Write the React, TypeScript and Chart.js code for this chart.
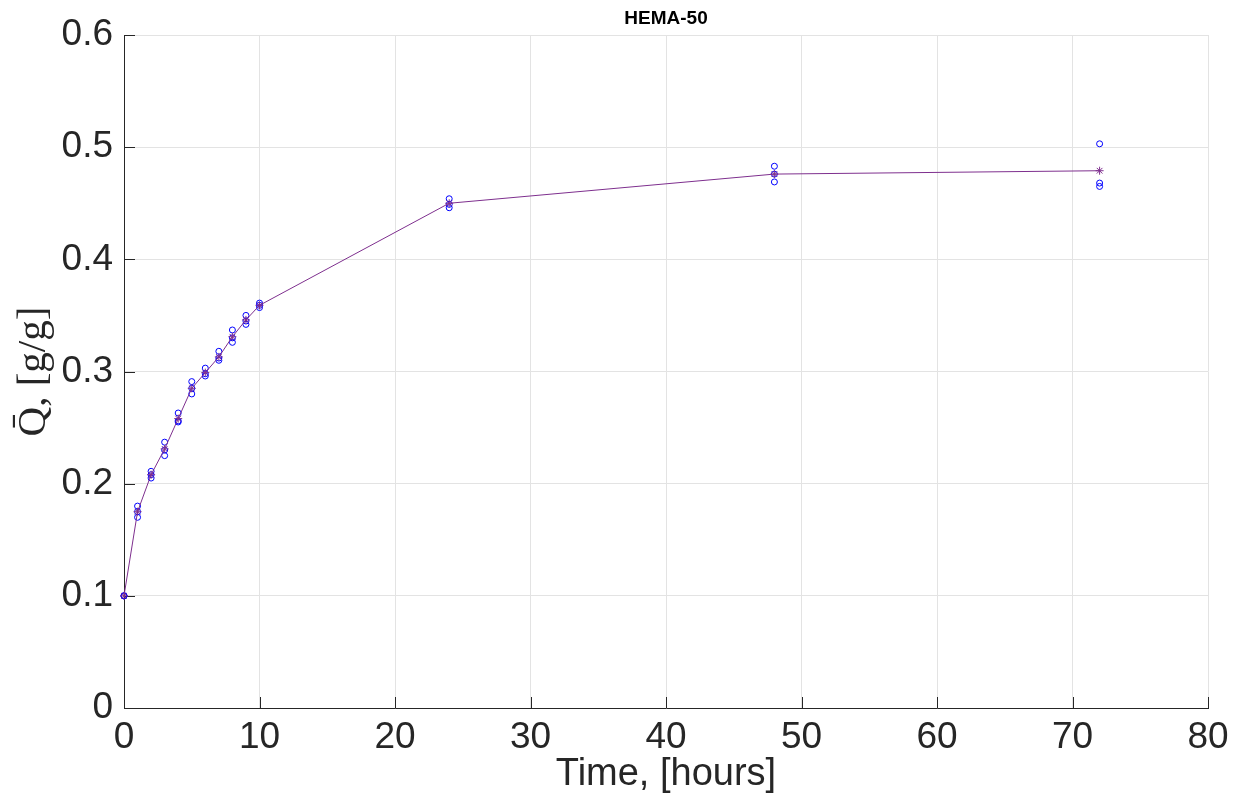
import React, { useEffect, useRef } from 'react';
import { Chart, registerables } from 'chart.js';

Chart.register(...registerables);

// Sampling times (hours)
const times = [0, 1, 2, 3, 4, 5, 6, 7, 8, 9, 10, 24, 48, 72];
// Three replicate measurements of Q (g/g)
const rep1 = [0.1, 0.18, 0.211, 0.237, 0.263, 0.291, 0.303, 0.318, 0.337, 0.35, 0.361, 0.454, 0.483, 0.503];
const rep2 = [0.1, 0.175, 0.208, 0.23, 0.256, 0.285, 0.298, 0.312, 0.33, 0.345, 0.359, 0.449, 0.476, 0.468];
const rep3 = [0.1, 0.17, 0.205, 0.225, 0.255, 0.28, 0.296, 0.31, 0.326, 0.342, 0.357, 0.446, 0.469, 0.465];
// Mean curve (stars + line)
const meanQ = [0.1, 0.175, 0.208, 0.231, 0.258, 0.285, 0.299, 0.313, 0.331, 0.346, 0.359, 0.45, 0.476, 0.479];

const xTicks = [0, 10, 20, 30, 40, 50, 60, 70, 80];
const yTicks = [0, 0.1, 0.2, 0.3, 0.4, 0.5, 0.6];

const titleText = 'HEMA-50';
const xLabel = 'Time, [hours]';
const yLabel = 'Q\u0304, [g/g]';

const AXIS = '#262626';
const GRID = '#e3e3e3';
const BLUE = '#0000ff';
const PURPLE = '#7e2f8e';
const SANS = '"Liberation Sans", Arial, Helvetica, sans-serif';

const inwardTicks = {
  id: 'inwardTicks',
  beforeDatasetsDraw(chart: any) {
    const { ctx, chartArea, scales } = chart;
    const len = 11;
    ctx.save();
    ctx.strokeStyle = AXIS;
    ctx.lineWidth = 1;
    ctx.beginPath();
    for (const v of yTicks) {
      const y = Math.round(scales.y.getPixelForValue(v)) + 0.5;
      ctx.moveTo(chartArea.left, y);
      ctx.lineTo(chartArea.left + len, y);
    }
    for (const v of xTicks) {
      const x = Math.round(scales.x.getPixelForValue(v)) + 0.5;
      ctx.moveTo(x, chartArea.bottom);
      ctx.lineTo(x, chartArea.bottom - len);
    }
    ctx.stroke();
    ctx.restore();
  },
};

// Title centred over the plot area (as in the reference), not over the whole canvas
const plotTitle = {
  id: 'plotTitle',
  afterDraw(chart: any) {
    const { ctx, chartArea } = chart;
    ctx.save();
    ctx.fillStyle = '#000';
    ctx.font = `bold 19px ${SANS}`;
    ctx.textAlign = 'center';
    ctx.textBaseline = 'middle';
    ctx.fillText(titleText, (chartArea.left + chartArea.right) / 2, 19);
    ctx.restore();
  },
};

export default function App() {
  const ref = useRef<HTMLCanvasElement | null>(null);

  useEffect(() => {
    if (!ref.current) return;
    const toPts = (arr: number[]) => times.map((t, i) => ({ x: t, y: arr[i] }));
    const repStyle = {
      pointStyle: 'circle',
      pointRadius: 3,
      pointBorderWidth: 1,
      pointBorderColor: BLUE,
      pointBackgroundColor: 'rgba(0,0,0,0)',
      showLine: false,
      clip: false,
      order: 2,
    };
    const chart = new Chart(ref.current, {
      type: 'scatter',
      data: {
        datasets: [
          {
            label: 'mean',
            data: toPts(meanQ),
            showLine: true,
            borderColor: PURPLE,
            borderWidth: 1,
            pointStyle: 'star',
            pointRadius: 4,
            pointBorderWidth: 1,
            pointBorderColor: PURPLE,
            pointBackgroundColor: PURPLE,
            clip: false,
            order: 1,
          } as any,
          { label: 'r1', data: toPts(rep1), ...repStyle } as any,
          { label: 'r2', data: toPts(rep2), ...repStyle } as any,
          { label: 'r3', data: toPts(rep3), ...repStyle } as any,
        ],
      },
      options: {
        animation: false,
        responsive: false,
        devicePixelRatio: 1,
        layout: { padding: { left: 0, right: 25, top: 35, bottom: 0 } },
        plugins: {
          legend: { display: false },
          tooltip: { enabled: false },
          title: { display: false },
        },
        scales: {
          x: {
            type: 'linear',
            min: 0,
            max: 80,
            afterBuildTicks: (s: any) => {
              s.ticks = xTicks.map((v) => ({ value: v }));
            },
            afterFit: (s: any) => {
              s.height = 88;
              s.paddingLeft = 0;
              s.paddingRight = 0;
            },
            grid: { color: GRID, lineWidth: 1, drawTicks: false },
            border: { display: true, color: AXIS, width: 1 },
            ticks: {
              color: AXIS,
              padding: 8,
              maxRotation: 0,
              font: { family: SANS, size: 37 },
              callback: (v: any) => String(v),
            },
            title: {
              display: true,
              text: xLabel,
              color: AXIS,
              font: { family: SANS, size: 38, lineHeight: 1.0 },
              padding: { top: 0, bottom: 2 },
            },
          },
          y: {
            type: 'linear',
            min: 0,
            max: 0.6,
            afterBuildTicks: (s: any) => {
              s.ticks = yTicks.map((v) => ({ value: v }));
            },
            afterFit: (s: any) => {
              s.width = 124;
              s.paddingTop = 0;
              s.paddingBottom = 0;
            },
            grid: { color: GRID, lineWidth: 1, drawTicks: false },
            border: { display: true, color: AXIS, width: 1 },
            ticks: {
              color: AXIS,
              padding: 11,
              font: { family: SANS, size: 37 },
              callback: (v: any) => (v === 0 ? '0' : Number(v).toFixed(1)),
            },
            title: {
              display: true,
              text: yLabel,
              color: AXIS,
              font: { family: '"Liberation Serif", "DejaVu Serif", serif', size: 41, lineHeight: 1.0 },
              padding: { top: 14, bottom: 0 },
            },
          },
        },
      },
      plugins: [inwardTicks, plotTitle],
    } as any);
    return () => chart.destroy();
  }, []);

  return (
    <div style={{ position: 'fixed', left: 0, top: 0, width: 1233, height: 796, background: '#fff' }}>
      <canvas ref={ref} width={1233} height={796} style={{ display: 'block' }} />
    </div>
  );
}
